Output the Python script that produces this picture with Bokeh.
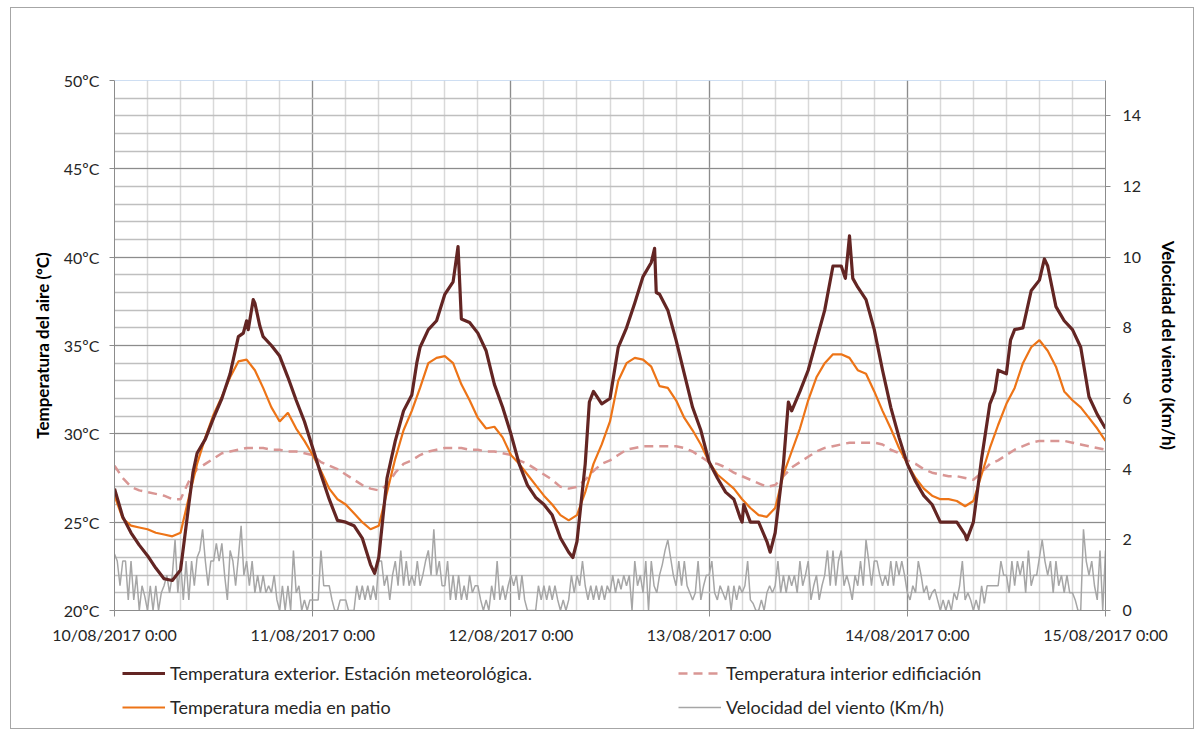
from bokeh.plotting import figure
from bokeh.layouts import column
from bokeh.models import Range1d, LinearAxis, FixedTicker, Legend, Span
from bokeh.embed import file_html
from bokeh.resources import INLINE

# ---------------- data (hours since 10/08/2017 0:00) ----------------
day_labels = ["10/08/2017 0:00", "11/08/2017 0:00", "12/08/2017 0:00",
              "13/08/2017 0:00", "14/08/2017 0:00", "15/08/2017 0:00"]
temp_ticks = [20, 25, 30, 35, 40, 45, 50]
wind_ticks = [0, 2, 4, 6, 8, 10, 12, 14]

# Temperatura exterior (hourly)
ext_temp = [
    26.9, 25.3, 24.4, 23.7, 23.1, 22.4, 21.8, 21.7, 22.3, 26.0, 28.9, 29.7,
    30.9, 32.0, 33.4, 35.5, 36.4, 37.4, 35.5, 35.0, 34.4, 33.2, 31.9, 30.7,
    29.2, 27.7, 26.3, 25.1, 25.0, 24.8, 24.1, 22.6, 23.0, 27.5, 29.6, 31.3,
    32.2, 34.9, 35.9, 36.4, 37.9, 38.6, 36.5, 36.3, 35.7, 34.7, 32.8, 31.5,
    30.0, 28.3, 27.1, 26.4, 26.0, 25.4, 24.1, 23.3, 23.9, 28.3, 32.4, 31.7,
    32.0, 34.9, 36.0, 37.4, 38.9, 39.7, 37.9, 37.0, 35.3, 33.4, 31.5, 30.2,
    28.4, 27.5, 26.7, 26.3, 25.0, 25.0, 25.0, 23.9, 24.4, 28.3, 31.3, 32.4,
    33.6, 35.3, 37.0, 39.5, 39.5, 41.2, 38.3, 37.6, 35.9, 33.6, 31.5, 29.8,
    28.3, 27.3, 26.5, 26.0, 25.0, 25.0, 25.0, 24.3, 25.0, 28.6, 31.7, 33.6,
    33.4, 35.9, 36.0, 38.1, 38.7, 39.5, 37.2, 36.4, 35.9, 34.9, 32.1, 31.1,
    30.3]
# extra readings at peaks / minima / jumps between the hourly values
ext_extra_hours = [9.5, 15.6, 16.2, 16.8, 17.6, 31.5, 36.6, 41.6, 55.5, 57.5,
                   65.4, 65.6, 75.8, 76.2, 79.4, 81.6, 88.5, 89.4, 103.2,
                   106.6, 108.5, 112.6]
ext_extra_temp = [27.8, 35.7, 35.9, 37.6, 36.1, 22.1, 34.0, 40.6, 23.0, 31.8,
                  40.5, 38.0, 25.2, 26.0, 23.3, 31.8, 38.8, 38.8, 24.0,
                  32.4, 35.3, 39.9]

# Temperatura media en patio (hourly)
patio_temp = [
    26.5, 25.2, 24.8, 24.7, 24.6, 24.4, 24.3, 24.2, 24.4, 26.4, 28.3, 29.8,
    31.1, 32.1, 33.2, 34.1, 34.2, 33.6, 32.6, 31.5, 30.7, 31.2, 30.3, 29.6,
    28.8, 27.9, 26.9, 26.3, 26.0, 25.5, 25.0, 24.6, 24.8, 26.7, 28.6, 30.2,
    31.3, 32.6, 34.0, 34.3, 34.4, 34.0, 32.8, 31.9, 30.9, 30.3, 30.4, 29.8,
    28.8, 28.3, 27.7, 27.1, 26.5, 26.0, 25.4, 25.1, 25.4, 26.7, 28.3, 29.4,
    30.7, 33.0, 34.0, 34.3, 34.2, 33.8, 32.7, 32.6, 31.9, 30.9, 30.2, 29.4,
    28.4, 27.7, 27.3, 26.9, 26.3, 25.8, 25.4, 25.3, 25.8, 27.7, 29.0, 30.3,
    31.9, 33.2, 34.0, 34.5, 34.5, 34.3, 33.6, 33.4, 32.4, 31.3, 30.3, 29.2,
    28.3, 27.5, 26.9, 26.5, 26.3, 26.3, 26.2, 25.9, 26.2, 27.7, 29.2, 30.5,
    31.7, 32.6, 34.0, 34.9, 35.3, 34.7, 33.8, 32.4, 31.9, 31.5, 30.9, 30.3,
    29.6]

# Temperatura interior edificiación (hourly)
interior_temp = [
    28.2, 27.5, 27.0, 26.8, 26.7, 26.6, 26.5, 26.3, 26.3, 27.3, 28.0, 28.3,
    28.6, 28.9, 29.0, 29.1, 29.2, 29.2, 29.2, 29.1, 29.1, 29.0, 29.0, 28.9,
    28.8, 28.4, 28.2, 28.0, 27.7, 27.4, 27.1, 26.9, 26.8, 27.1, 27.8, 28.3,
    28.5, 28.8, 29.0, 29.1, 29.2, 29.2, 29.2, 29.1, 29.1, 29.0, 29.0, 28.9,
    28.8, 28.5, 28.3, 28.0, 27.7, 27.4, 27.0, 26.9, 27.0, 27.4, 27.9, 28.3,
    28.5, 28.8, 29.1, 29.2, 29.3, 29.3, 29.3, 29.3, 29.3, 29.2, 29.0, 28.7,
    28.4, 28.3, 28.1, 27.8, 27.6, 27.4, 27.2, 27.0, 27.1, 27.6, 28.1, 28.4,
    28.7, 29.0, 29.2, 29.3, 29.4, 29.5, 29.5, 29.5, 29.5, 29.4, 29.1, 28.9,
    28.5, 28.3, 28.0, 27.8, 27.7, 27.6, 27.6, 27.5, 27.4, 27.8, 28.3, 28.5,
    28.8, 29.1, 29.3, 29.5, 29.6, 29.6, 29.6, 29.6, 29.5, 29.4, 29.3, 29.2,
    29.1]

# Velocidad del viento (Km/h), every 20 minutes
wind_speed = [
    1.6, 1.4, 0.7, 1.4, 1.4, 0.3, 1.4, 0.3, 1.0, 0.0, 0.7, 0.4,
    0.0, 0.7, 0.0, 0.7, 0.0, 0.5, 0.7, 1.0, 0.5, 1.0, 2.0, 0.5,
    1.4, 0.3, 1.4, 0.3, 1.4, 0.7, 1.5, 1.7, 2.3, 1.4, 0.7, 1.4,
    1.4, 1.9, 1.4, 1.9, 1.0, 0.3, 1.7, 1.4, 0.7, 1.5, 2.4, 1.0,
    1.4, 0.7, 1.4, 0.5, 1.0, 0.5, 1.0, 0.5, 0.7, 0.5, 1.0, 0.3,
    0.0, 0.7, 0.0, 0.7, 0.0, 1.7, 0.5, 0.7, 0.0, 0.3, 0.0, 0.3,
    0.3, 0.3, 0.3, 1.7, 0.7, 0.7, 0.7, 0.3, 0.0, 0.0, 0.3, 0.3,
    0.3, 0.0, 0.0, 0.0, 0.7, 0.3, 0.7, 0.3, 0.7, 0.3, 0.7, 0.3,
    1.4, 1.4, 0.7, 1.0, 0.3, 1.0, 1.4, 0.7, 1.7, 0.7, 1.4, 0.7,
    1.0, 0.7, 1.4, 0.7, 1.0, 1.4, 1.7, 1.0, 2.3, 1.0, 1.4, 0.7,
    0.7, 1.4, 0.3, 1.0, 0.3, 1.0, 0.3, 0.7, 0.3, 1.0, 0.5, 0.7,
    0.7, 0.3, 0.0, 0.3, 0.0, 0.7, 0.3, 1.4, 0.3, 0.7, 0.3, 0.7,
    1.0, 0.7, 1.0, 0.3, 1.0, 0.3, 0.0, 0.0, 0.0, 0.0, 0.7, 0.3,
    0.7, 0.3, 0.7, 0.3, 0.7, 0.3, 0.0, 0.3, 0.0, 0.3, 1.0, 0.5,
    1.0, 0.7, 1.4, 0.7, 0.3, 0.7, 0.3, 0.7, 0.3, 0.7, 0.3, 0.7,
    0.5, 1.0, 0.5, 0.9, 0.6, 1.0, 0.7, 1.0, 0.0, 1.4, 0.7, 1.0,
    0.5, 1.4, 0.0, 1.4, 0.7, 0.5, 1.0, 1.3, 1.7, 2.0, 1.5, 1.0,
    0.7, 1.4, 0.7, 1.4, 0.7, 0.5, 0.3, 0.5, 1.4, 0.3, 0.7, 1.0,
    1.0, 1.4, 0.5, 0.3, 0.7, 0.5, 0.3, 0.7, 0.0, 0.7, 0.3, 0.7,
    0.5, 0.7, 1.4, 0.3, 0.2, 0.0, 0.0, 0.3, 0.0, 0.5, 0.7, 0.5,
    0.7, 1.4, 0.5, 1.0, 0.5, 1.0, 0.7, 1.0, 0.5, 1.4, 0.7, 1.0,
    1.4, 0.3, 0.7, 1.0, 0.3, 0.7, 1.0, 1.7, 0.7, 1.7, 0.7, 1.4,
    1.7, 0.7, 1.0, 0.7, 0.3, 1.0, 0.7, 1.4, 0.7, 2.0, 1.4, 0.7,
    1.4, 1.4, 1.0, 0.7, 1.0, 0.7, 1.4, 0.7, 1.4, 1.0, 1.4, 1.0,
    0.5, 0.3, 0.7, 0.5, 1.4, 1.0, 0.5, 0.7, 0.3, 0.5, 0.6, 0.3,
    0.0, 0.3, 0.0, 0.3, 0.0, 0.5, 0.3, 0.7, 1.4, 0.3, 0.5, 0.3,
    0.0, 0.3, 0.0, 0.7, 0.2, 0.7, 0.7, 0.7, 0.7, 0.7, 1.4, 1.0,
    1.0, 0.5, 1.4, 0.7, 1.4, 1.0, 1.4, 0.5, 1.7, 0.7, 1.0, 1.0,
    1.5, 2.0, 1.4, 1.0, 1.4, 0.5, 1.4, 0.7, 1.0, 0.5, 1.0, 0.5,
    0.5, 0.3, 0.0, 0.0, 2.3, 1.4, 1.0, 1.4, 0.7, 0.3, 1.7, 0.0,
    1.7]

series_names = ["Temperatura exterior. Estación meteorológica.",
                "Temperatura interior edificiación",
                "Temperatura media en patio",
                "Velocidad del viento (Km/h)"]

# ---------------- build ----------------
hours = list(range(len(ext_temp)))
ext_pairs = sorted(list(zip(hours, ext_temp)) + list(zip(ext_extra_hours, ext_extra_temp)))
ext_x = [a for a, b in ext_pairs]
ext_y = [b for a, b in ext_pairs]
wind_x = [i / 3 for i in range(len(wind_speed))]

FONT = "Lato"
TXT = "#262626"
TICK_FS = "16px"
LABEL_FS = "17px"
LEG_FS = "18px"
C_EXT, C_INT, C_PATIO, C_WIND = "#632523", "#d99694", "#ed7417", "#a6a6a6"
S_EXT = dict(line_color=C_EXT, line_width=3.2, line_join="round")
S_INT = dict(line_color=C_INT, line_width=2.5, line_dash="9 6")
S_PATIO = dict(line_color=C_PATIO, line_width=2.2)
S_WIND = dict(line_color=C_WIND, line_width=1.5)
W = 1182
day_ticks = [24 * i for i in range(len(day_labels))]

p = figure(width=W, height=645, output_backend="svg", toolbar_location=None,
           x_range=Range1d(0, 120), y_range=Range1d(20, 50),
           min_border_left=103, min_border_right=88, min_border_top=72,
           min_border_bottom=43)
p.outline_line_color = None
p.extra_y_ranges = {"wind": Range1d(0, 15)}

# grids
p.xgrid.ticker = FixedTicker(ticks=day_ticks, minor_ticks=list(range(0, 121, 4)))
p.xgrid.grid_line_color = "#8c8c8c"
p.xgrid.grid_line_width = 1.2
p.xgrid.minor_grid_line_color = "#d9d9d9"
p.xgrid.minor_grid_line_width = 1.5
p.ygrid.ticker = FixedTicker(ticks=temp_ticks, minor_ticks=list(range(20, 51)))
p.ygrid.grid_line_color = "#8c8c8c"
p.ygrid.grid_line_width = 1.2
p.ygrid.minor_grid_line_color = "#bfbfbf"
p.ygrid.minor_grid_line_width = 1.5

# x axis
xa = p.xaxis[0]
xa.ticker = FixedTicker(ticks=day_ticks)
xa.major_label_overrides = {t: lab for t, lab in zip(day_ticks, day_labels)}
xa.axis_line_color = "#8c8c8c"
xa.major_tick_line_color = "#8c8c8c"
xa.major_tick_out = 6
xa.major_tick_in = 0
xa.minor_tick_line_color = None
xa.major_label_standoff = 8
xa.major_label_text_font = FONT
xa.major_label_text_font_size = TICK_FS
xa.major_label_text_color = TXT

# left axis
ya = p.yaxis[0]
ya.ticker = FixedTicker(ticks=temp_ticks)
ya.major_label_overrides = {t: f"{t}ºC" for t in temp_ticks}
ya.axis_line_color = "#8c8c8c"
ya.major_tick_line_color = "#8c8c8c"
ya.major_tick_out = 5
ya.major_tick_in = 0
ya.minor_tick_line_color = None
ya.major_label_standoff = 10
ya.major_label_text_font = FONT
ya.major_label_text_font_size = TICK_FS
ya.major_label_text_color = TXT
ya.axis_label = "Temperatura del aire (ºC)"
ya.axis_label_text_font = FONT
ya.axis_label_text_font_style = "bold"
ya.axis_label_text_font_size = LABEL_FS
ya.axis_label_text_color = "#000000"
ya.axis_label_standoff = 8

# right axis
ra = LinearAxis(y_range_name="wind", ticker=FixedTicker(ticks=wind_ticks))
ra.axis_line_color = "#8c8c8c"
ra.major_tick_line_color = "#8c8c8c"
ra.major_tick_out = 5
ra.major_tick_in = 0
ra.minor_tick_line_color = None
ra.major_label_standoff = 12
ra.major_label_text_font = FONT
ra.major_label_text_font_size = TICK_FS
ra.major_label_text_color = TXT
ra.axis_label = "Velocidad del viento (Km/h)"
ra.axis_label_text_font = FONT
ra.axis_label_text_font_style = "bold"
ra.axis_label_text_font_size = LABEL_FS
ra.axis_label_text_color = "#000000"
ra.axis_label_standoff = 14
p.add_layout(ra, "right")

p.add_layout(Span(location=50, dimension="width", line_color="#9dbde6", line_width=1.2))

# series
p.line(wind_x, wind_speed, y_range_name="wind", **S_WIND)
p.line(hours, interior_temp, **S_INT)
p.line(hours, patio_temp, **S_PATIO)
p.line(ext_x, ext_y, **S_EXT)

# ---------------- legend strip (series drawn out of view, only legend shows) ----
lf = figure(width=W, height=75, output_backend="svg", toolbar_location=None,
            x_range=Range1d(0, 1), y_range=Range1d(-10, -9), min_border=0)
lf.axis.visible = False
lf.grid.visible = False
lf.outline_line_color = None
l_ext = lf.line(ext_x, ext_y, **S_EXT)
l_int = lf.line(hours, interior_temp, **S_INT)
l_patio = lf.line(hours, patio_temp, **S_PATIO)
l_wind = lf.line(wind_x, wind_speed, **S_WIND)

common = dict(orientation="vertical", border_line_color=None, background_fill_alpha=0,
              padding=0, margin=0, spacing=0, glyph_width=43, glyph_height=34,
              label_height=34, label_standoff=5, label_text_font=FONT,
              label_text_font_size=LEG_FS, label_text_color=TXT)
leg1 = Legend(items=[(series_names[0], [l_ext]), (series_names[2], [l_patio])],
              location=(8, 4), **common)
leg2 = Legend(items=[(series_names[1], [l_int]), (series_names[3], [l_wind])],
              location=(564, 4), **common)
lf.add_layout(leg1)
lf.add_layout(leg2)

layout = column(p, lf, spacing=0,
                styles={"border": "1px solid #a6a6a6", "margin-left": "10px",
                        "margin-top": "7px", "background-color": "white"})

open("out.html", "w").write(file_html(layout, INLINE))
